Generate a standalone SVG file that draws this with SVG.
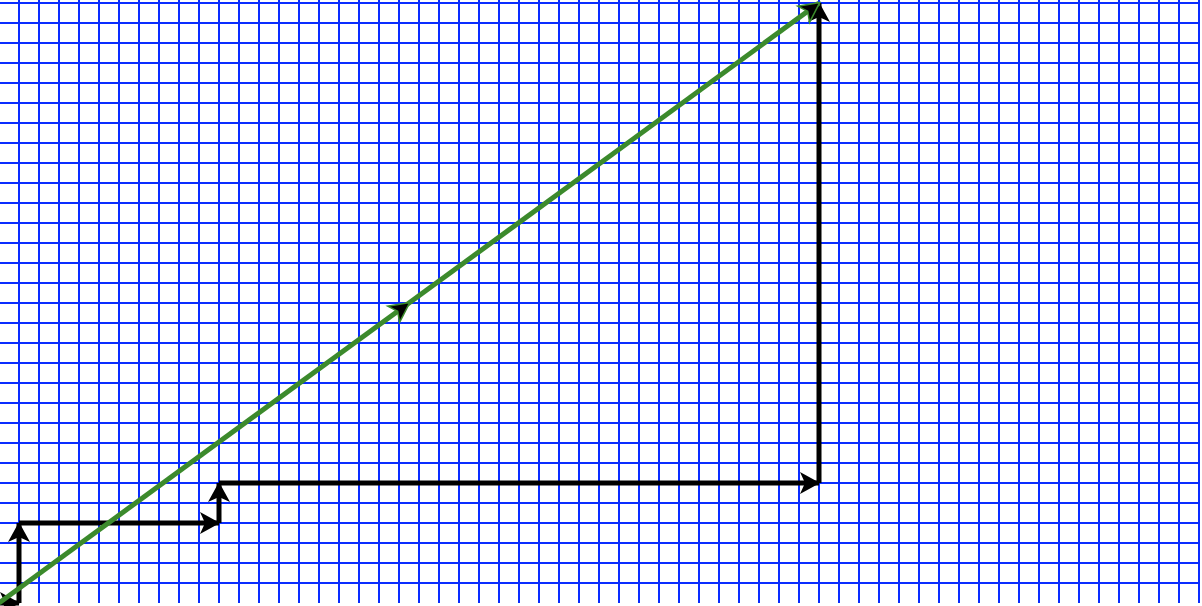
<svg xmlns="http://www.w3.org/2000/svg" width="1202" height="606" viewBox="0 0 1202 606">
<style>
.grid line{stroke:#0a2cff;stroke-width:2}
.blk{stroke:#000;stroke-width:5;fill:none;marker-end:url(#ab)}
.grn{stroke:#3c8a2c;stroke-width:5;fill:none;marker-mid:url(#ag);marker-end:url(#ag)}
</style>
<defs>
<marker id="ab" markerUnits="userSpaceOnUse" viewBox="-22 -12 24 24" refX="0" refY="0" markerWidth="24" markerHeight="24" orient="auto" overflow="visible">
<path d="M1,0 L-19,-11 L-14,0 L-19,11 Z" fill="#000"/>
</marker>
<marker id="ag" markerUnits="userSpaceOnUse" viewBox="-22 -12 24 24" refX="0" refY="0" markerWidth="24" markerHeight="24" orient="auto" overflow="visible">
<path d="M1,0 L-19,-10 L-14,0 L-19,10 Z" fill="#000" stroke="#3c8a2c" stroke-width="1.5"/>
</marker>
</defs>
<rect width="1202" height="606" fill="#fff"/>
<g class="grid" id="grid">
<line x1="-1" y1="0" x2="-1" y2="603"/><line x1="19" y1="0" x2="19" y2="603"/><line x1="39" y1="0" x2="39" y2="603"/><line x1="59" y1="0" x2="59" y2="603"/><line x1="79" y1="0" x2="79" y2="603"/><line x1="99" y1="0" x2="99" y2="603"/><line x1="119" y1="0" x2="119" y2="603"/><line x1="139" y1="0" x2="139" y2="603"/><line x1="159" y1="0" x2="159" y2="603"/><line x1="179" y1="0" x2="179" y2="603"/><line x1="199" y1="0" x2="199" y2="603"/><line x1="219" y1="0" x2="219" y2="603"/><line x1="239" y1="0" x2="239" y2="603"/><line x1="259" y1="0" x2="259" y2="603"/><line x1="279" y1="0" x2="279" y2="603"/><line x1="299" y1="0" x2="299" y2="603"/><line x1="319" y1="0" x2="319" y2="603"/><line x1="339" y1="0" x2="339" y2="603"/><line x1="359" y1="0" x2="359" y2="603"/><line x1="379" y1="0" x2="379" y2="603"/><line x1="399" y1="0" x2="399" y2="603"/><line x1="419" y1="0" x2="419" y2="603"/><line x1="439" y1="0" x2="439" y2="603"/><line x1="459" y1="0" x2="459" y2="603"/><line x1="479" y1="0" x2="479" y2="603"/><line x1="499" y1="0" x2="499" y2="603"/><line x1="519" y1="0" x2="519" y2="603"/><line x1="539" y1="0" x2="539" y2="603"/><line x1="559" y1="0" x2="559" y2="603"/><line x1="579" y1="0" x2="579" y2="603"/><line x1="599" y1="0" x2="599" y2="603"/><line x1="619" y1="0" x2="619" y2="603"/><line x1="639" y1="0" x2="639" y2="603"/><line x1="659" y1="0" x2="659" y2="603"/><line x1="679" y1="0" x2="679" y2="603"/><line x1="699" y1="0" x2="699" y2="603"/><line x1="719" y1="0" x2="719" y2="603"/><line x1="739" y1="0" x2="739" y2="603"/><line x1="759" y1="0" x2="759" y2="603"/><line x1="779" y1="0" x2="779" y2="603"/><line x1="799" y1="0" x2="799" y2="603"/><line x1="819" y1="0" x2="819" y2="603"/><line x1="839" y1="0" x2="839" y2="603"/><line x1="859" y1="0" x2="859" y2="603"/><line x1="879" y1="0" x2="879" y2="603"/><line x1="899" y1="0" x2="899" y2="603"/><line x1="919" y1="0" x2="919" y2="603"/><line x1="939" y1="0" x2="939" y2="603"/><line x1="959" y1="0" x2="959" y2="603"/><line x1="979" y1="0" x2="979" y2="603"/><line x1="999" y1="0" x2="999" y2="603"/><line x1="1019" y1="0" x2="1019" y2="603"/><line x1="1039" y1="0" x2="1039" y2="603"/><line x1="1059" y1="0" x2="1059" y2="603"/><line x1="1079" y1="0" x2="1079" y2="603"/><line x1="1099" y1="0" x2="1099" y2="603"/><line x1="1119" y1="0" x2="1119" y2="603"/><line x1="1139" y1="0" x2="1139" y2="603"/><line x1="1159" y1="0" x2="1159" y2="603"/><line x1="1179" y1="0" x2="1179" y2="603"/><line x1="1199" y1="0" x2="1199" y2="603"/>
<line x1="0" y1="3" x2="1200" y2="3"/><line x1="0" y1="23" x2="1200" y2="23"/><line x1="0" y1="43" x2="1200" y2="43"/><line x1="0" y1="63" x2="1200" y2="63"/><line x1="0" y1="83" x2="1200" y2="83"/><line x1="0" y1="103" x2="1200" y2="103"/><line x1="0" y1="123" x2="1200" y2="123"/><line x1="0" y1="143" x2="1200" y2="143"/><line x1="0" y1="163" x2="1200" y2="163"/><line x1="0" y1="183" x2="1200" y2="183"/><line x1="0" y1="203" x2="1200" y2="203"/><line x1="0" y1="223" x2="1200" y2="223"/><line x1="0" y1="243" x2="1200" y2="243"/><line x1="0" y1="263" x2="1200" y2="263"/><line x1="0" y1="283" x2="1200" y2="283"/><line x1="0" y1="303" x2="1200" y2="303"/><line x1="0" y1="323" x2="1200" y2="323"/><line x1="0" y1="343" x2="1200" y2="343"/><line x1="0" y1="363" x2="1200" y2="363"/><line x1="0" y1="383" x2="1200" y2="383"/><line x1="0" y1="403" x2="1200" y2="403"/><line x1="0" y1="423" x2="1200" y2="423"/><line x1="0" y1="443" x2="1200" y2="443"/><line x1="0" y1="463" x2="1200" y2="463"/><line x1="0" y1="483" x2="1200" y2="483"/><line x1="0" y1="503" x2="1200" y2="503"/><line x1="0" y1="523" x2="1200" y2="523"/><line x1="0" y1="543" x2="1200" y2="543"/><line x1="0" y1="563" x2="1200" y2="563"/><line x1="0" y1="583" x2="1200" y2="583"/>
</g>
<g id="connectors">
<path class="blk" d="M-21,603 L19,603"/>
<path class="blk" d="M19,603 L19,523"/>
<path class="blk" d="M19,523 L219,523"/>
<path class="blk" d="M219,523 L219,483"/>
<path class="blk" d="M219,483 L819,483"/>
<path class="blk" d="M819,483 L819,3"/>
<polyline class="grn" points="-1,603 409,303 819,3"/>
</g>
</svg>
